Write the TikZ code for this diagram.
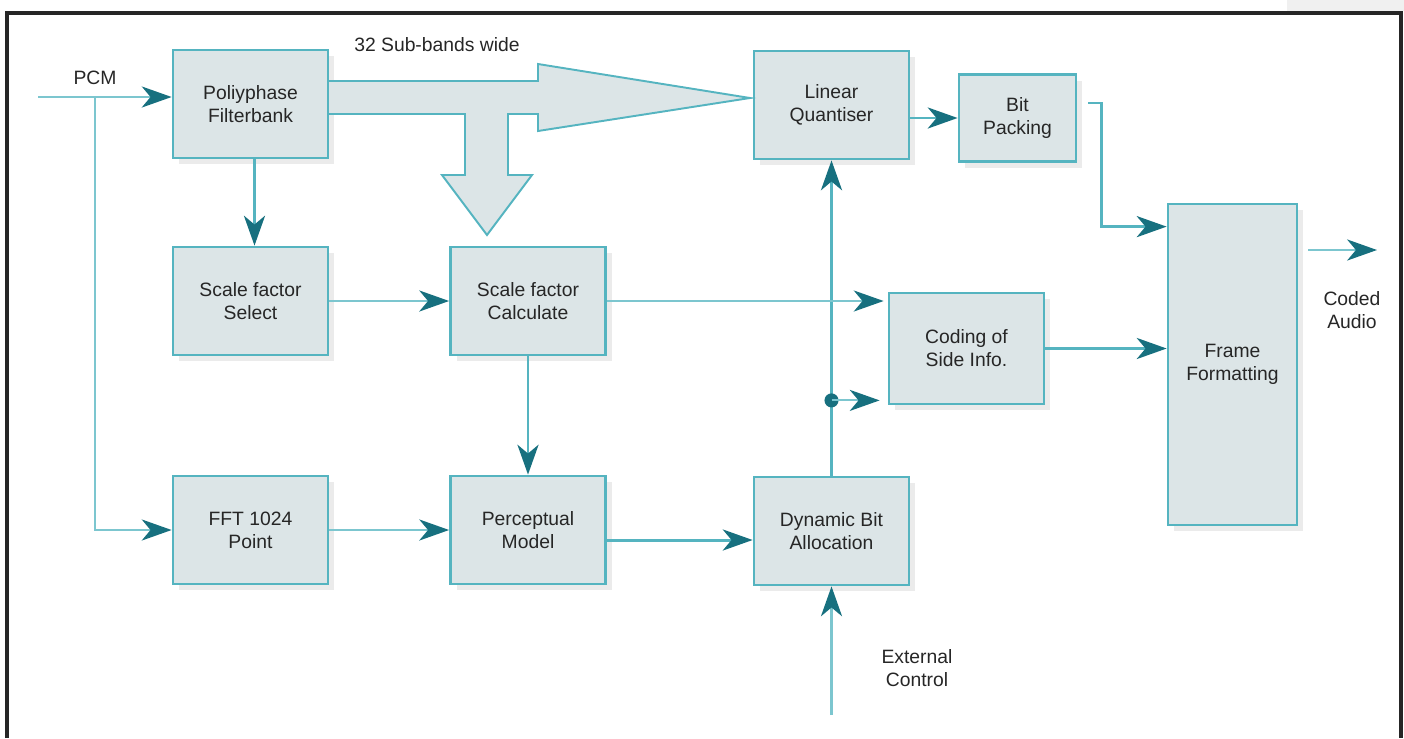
\documentclass[tikz,border=0pt]{standalone}
\usepackage{fontspec}
\setmainfont{Liberation Sans}
\usetikzlibrary{arrows.meta,calc,shadows}
\definecolor{tealline}{HTML}{55B4C0}
\definecolor{tealtip}{HTML}{17707F}
\definecolor{teallight}{HTML}{7CC6CF}
\definecolor{boxfill}{HTML}{DCE5E7}
\tikzset{
  block/.style={draw=tealline, line width=1.6pt, fill=boxfill, align=center, inner sep=0pt,
    minimum width=3.1cm, minimum height=2.16cm,
    drop shadow={shadow xshift=3.5pt, shadow yshift=-3.5pt, fill=black, opacity=0.08}},
  tip/.style={-{Stealth[length=17pt, width=12pt, inset=5pt, color=tealtip]}},
  link/.style={tip, tealline, line width=1.7pt},
  thinlink/.style={tip, teallight, line width=1.2pt},
}
\begin{document}
\begin{tikzpicture}[x=0.02cm, y=-0.02cm, text=black!85, font=\fontsize{11}{13}\selectfont]
  \useasboundingbox (0,0) rectangle (1404,738);
  \fill[black!6] (1287,0) rectangle (1404,11);
  \draw[line width=2.3pt, black!85] (7,738) -- (7,13) -- (1401,13) -- (1401,738);

  % blocks
  \node[block] (poly) at (250.5,104) {Poliyphase\\Filterbank};
  \node[block] (select) at (250.5,301) {Scale factor\\Select};
  \node[block] (fft) at (250.5,530) {FFT 1024\\Point};
  \node[block] (calc) at (528,301) {Scale factor\\Calculate};
  \node[block] (percep) at (528,530) {Perceptual\\Model};
  \node[block] (quant) at (831.5,105) {Linear\\Quantiser};
  \node[block] (dyn) at (831.5,531) {Dynamic Bit\\Allocation};
  \node[block, minimum width=2.34cm, minimum height=1.74cm] (bitpack) at (1017.5,118) {Bit\\Packing};
  \node[block, minimum height=2.22cm] (side) at (966.5,348.5) {Coding of\\Side Info.};
  \node[block, minimum width=2.58cm, minimum height=6.42cm] (frame) at (1232.5,364.5) {Frame\\Formatting};

  % sub-band arrow
  \filldraw[fill=boxfill, draw=tealline, line width=1.1pt] (328,81) -- (538,81) -- (538,64) -- (750,98)
    -- (538,131) -- (538,114) -- (508,114) -- (508,175) -- (532,175) -- (487,235)
    -- (442,175) -- (465,175) -- (465,114) -- (328,114) -- cycle;
  \node (bands) at (437,45) {32 Sub-bands wide};

  % inputs and outputs
  \coordinate (pcmin) at (38,97);
  \coordinate (pcmj) at (95,97);
  \coordinate (ext) at (834,715);
  \coordinate (out) at (1377,250);
  \coordinate (bpout) at (1088,103);
  \node (pcm) at (95,78) {PCM};
  \node[align=center] (extlabel) at (917,668) {External\\Control};
  \node[align=center] (coded) at (1352,310) {Coded\\Audio};

  \draw[thinlink] (pcmin) -- (poly.west |- pcmin);
  \draw[thinlink] (pcmj) |- (fft.west);
  \draw[link] ($(poly.south)+(4,0)$) -- ($(select.north)+(4,0)$);
  \draw[thinlink] (select.east) -- (calc.west);
  \draw[thinlink] (fft.east) -- (percep.west);
  \draw[link] (calc.south) -- (percep.north);
  \draw[link] ($(percep.east)+(0,10)$) -- ($(dyn.west)+(0,9)$);
  \draw[link] (dyn.north) -- (quant.south);
  \draw[thinlink] (dyn.south |- ext) -- (dyn.south);
  \draw[thinlink, shorten >=0.08cm] (calc.east) -- (side.west |- calc.east);
  \coordinate (dot) at ($(dyn.north |- side.south)+(0,-5)$);
  \fill[tealtip] (dot) circle (4pt);
  \draw[thinlink, shorten >=0.16cm] (dot) -- (side.west |- dot);
  \draw[link] (side.east) -- (side.east -| frame.west);
  \draw[link] (quant.east |- bitpack.west) -- (bitpack.west);
  \draw[link] (bpout) -- ++(13,0) |- ($(frame.north west)+(0,24)$);
  \draw[thinlink] ($(frame.east |- out)+(10,0)$) -- (out);
\end{tikzpicture}
\end{document}
